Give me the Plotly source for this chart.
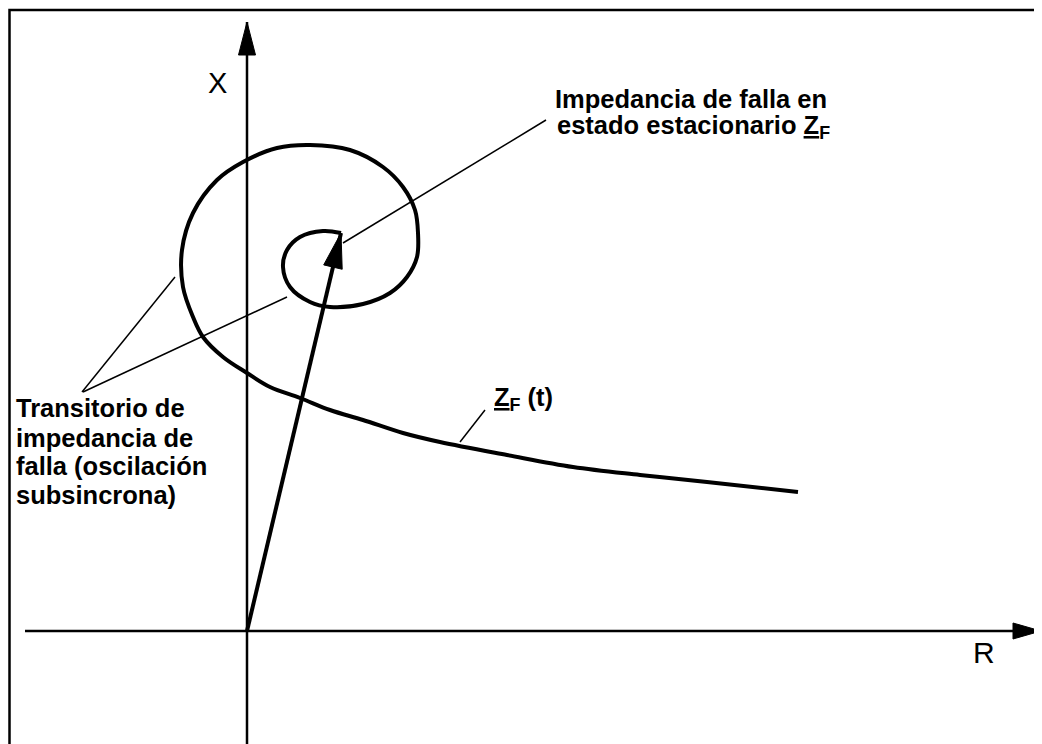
import numpy as np
import plotly.graph_objects as go

# ---- data (R, X in arbitrary impedance units) ----
spiral_R = [0.94, 0.76, 0.53, 0.40, 0.36, 0.43, 0.63, 0.83, 1.16, 1.43, 1.60, 1.70,
            1.71, 1.68, 1.56, 1.36, 1.03, 0.63, 0.30, -0.04, -0.30, -0.54, -0.65,
            -0.64, -0.54, -0.44, -0.24, 0.00, 0.23, 0.53, 0.83, 1.16, 1.56, 1.93,
            2.60, 3.26, 3.93, 4.60, 5.51]
spiral_X = [3.98, 4.00, 3.94, 3.81, 3.64, 3.44, 3.29, 3.24, 3.27, 3.38, 3.54, 3.74,
            3.98, 4.21, 4.44, 4.64, 4.81, 4.86, 4.83, 4.69, 4.51, 4.18, 3.81,
            3.44, 3.14, 2.94, 2.74, 2.58, 2.44, 2.33, 2.21, 2.11, 1.98, 1.89,
            1.76, 1.64, 1.56, 1.49, 1.39]

# steady-state fault impedance vector (from origin)
vector_R = [0.0, 0.94]
vector_X = [0.0, 3.98]

# axes extents
x_axis_R = [-2.22, 7.94]
x_axis_X = [0.0, 0.0]
y_axis_R = [0.0, 0.0]
y_axis_X = [-1.13, 6.09]

# leader lines
leader_steady_R = [0.96, 2.99]
leader_steady_X = [3.88, 5.11]
leader_trans1_R = [-1.65, -0.72]
leader_trans1_X = [2.39, 3.54]
leader_trans2_R = [-1.64, 0.40]
leader_trans2_X = [2.39, 3.34]
leader_zf_R = [2.13, 2.38]
leader_zf_X = [1.89, 2.21]

# frame
frame_R = [7.95, -2.375, -2.375]
frame_X = [6.21, 6.21, -1.13]

label_steady = ["Impedancia de falla en", "estado estacionario <u>Z</u><sub>F</sub>"]
label_trans = ["Transitorio de", "impedancia de", "falla (oscilación", "subsincrona)"]
label_zf = "<u>Z</u><sub>F</sub> (t)"
axis_label_x = "R"
axis_label_y = "X"

FONT = "Liberation Sans, Arial, sans-serif"


def head(tip_r, tip_x, from_r, from_x, length, width):
    d = np.array([tip_r - from_r, tip_x - from_x], dtype=float)
    d /= np.linalg.norm(d)
    p = np.array([-d[1], d[0]])
    tip = np.array([tip_r, tip_x])
    base = tip - d * length
    a = base + p * width / 2
    b = base - p * width / 2
    return [tip[0], a[0], b[0], tip[0]], [tip[1], a[1], b[1], tip[1]]


fig = go.Figure()

def line(xs, ys, w, shape="linear"):
    fig.add_trace(go.Scatter(x=xs, y=ys, mode="lines",
                             line=dict(color="black", width=w, shape=shape),
                             hoverinfo="skip", showlegend=False))

line(frame_R, frame_X, 2.5)
line(x_axis_R, x_axis_X, 2.5)
line(y_axis_R, y_axis_X, 2.5)
line(leader_steady_R, leader_steady_X, 1.5)
line(leader_trans1_R, leader_trans1_X, 1.5)
line(leader_trans2_R, leader_trans2_X, 1.5)
line(leader_zf_R, leader_zf_X, 1.5)
line(spiral_R, spiral_X, 4, "spline")
line(vector_R, vector_X, 4)

heads = [
    head(x_axis_R[1], x_axis_X[1], x_axis_R[0], x_axis_X[0], 0.28, 0.16),
    head(y_axis_R[1], y_axis_X[1], y_axis_R[0], y_axis_X[0], 0.33, 0.17),
    head(vector_R[1], vector_X[1], vector_R[0], vector_X[0], 0.35, 0.19),
]
for hx, hy in heads:
    fig.add_trace(go.Scatter(x=hx, y=hy, mode="lines", fill="toself",
                             fillcolor="black", line=dict(color="black", width=1),
                             hoverinfo="skip", showlegend=False))

BOLD = dict(family=FONT, size=25.5, color="black", weight="bold")
ann = []
for i, t in enumerate(label_steady):
    ann.append(dict(x=3.06 + 0.02 * i, y=5.32 - 0.28 * i, text=t, xanchor="left",
                    yanchor="middle", showarrow=False, font=BOLD))
for i, t in enumerate(label_trans):
    ann.append(dict(x=-2.33, y=[2.23, 1.93, 1.65, 1.36][i], text=t, xanchor="left",
                    yanchor="middle", showarrow=False, font=BOLD))
ann.append(dict(x=2.45, y=2.32, text=label_zf, xanchor="left", yanchor="middle",
                showarrow=False, font=BOLD))
ann.append(dict(x=-0.30, y=5.48, text=axis_label_y, showarrow=False,
                font=dict(family=FONT, size=29, color="black")))
ann.append(dict(x=7.37, y=-0.21, text=axis_label_x, showarrow=False,
                font=dict(family=FONT, size=30, color="black")))

# the page body has an 8px margin: the figure starts at page pixel (8, 8)
fig.update_layout(
    width=1034, height=736, autosize=False,
    margin=dict(l=0, r=0, t=0, b=0),
    paper_bgcolor="white", plot_bgcolor="white",
    xaxis=dict(range=[-2.39, 7.95], visible=False, fixedrange=True),
    yaxis=dict(range=[-1.13, 6.23], visible=False, fixedrange=True),
    annotations=ann,
    showlegend=False,
)

fig.write_html("out.html")
